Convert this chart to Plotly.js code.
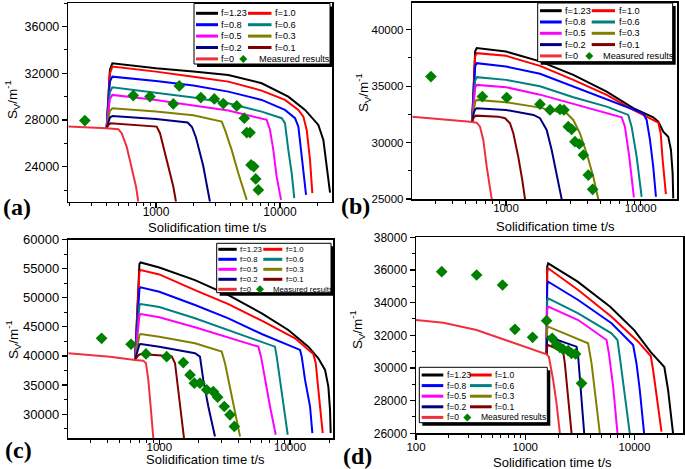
<!DOCTYPE html>
<html><head><meta charset="utf-8">
<script src="https://cdn.plot.ly/plotly-3.0.1.min.js"></script>
<style>html,body{margin:0;padding:0;background:#fff}</style>
</head><body><div id="chart" style="width:685px;height:469px"></div>
<script>
// ---------- text ----------
const F_LABELS = ['f=1.23','f=1.0','f=0.8','f=0.6','f=0.5','f=0.3','f=0.2','f=0.1','f=0'];
const MEAS_LABEL = 'Measured results';
const X_TICK_VALS = [100, 1000, 10000];
const X_TICK_TEXT = ['100', '1000', '10000'];
const X_TITLE = 'Solidification time t/s';
const Y_TITLE = 'S<sub>V</sub>/m<sup>-1</sup>';
const PANEL_LABELS = ['(a)', '(b)', '(c)', '(d)'];

// ---------- panel (a): [t (s), Sv (1/m)] ----------
const A_F123 = [[400,27300],[412,29500],[425,32300],[445,32865],[1000,32437],[2000,32150],[3828,31863],[7113,31150],[11660,30005],[15910,28865],[20370,27580],[22350,26296],[23810,24010],[25310,21782]];
const A_F10  = [[400,27300],[412,29400],[425,32000],[445,32574],[1000,32146],[2000,31700],[3828,31289],[7113,30520],[10960,29722],[14050,28865],[15420,28292],[16410,27152],[17450,24583],[18210,21730]];
const A_F08  = [[400,27300],[412,29000],[425,31300],[445,31717],[1000,31349],[2000,30950],[3828,30433],[7113,29722],[10960,28865],[13210,28155],[14050,27435],[14760,25440],[15420,23444],[16210,21585]];
const A_F06  = [[400,27300],[412,28700],[425,30400],[445,30810],[1000,30347],[2000,29930],[3828,29440],[7113,28720],[10320,28155],[10960,27726],[11660,25440],[12420,23444],[13030,21300]];
const A_F05  = [[400,27300],[412,28500],[425,29800],[445,30150],[1000,29722],[2000,29250],[3828,28806],[7812,28010],[8300,27152],[8830,25440],[9390,23153],[10190,21157]];
const A_F03  = [[400,27300],[412,28000],[425,28800],[445,29010],[1000,28720],[2000,28400],[3387,27863],[3598,27152],[4074,25440],[4610,23444],[5388,21157]];
const A_F02  = [[400,27300],[412,27800],[425,28200],[445,28350],[1000,28094],[1800,27780],[1950,27400],[2100,26500],[2400,24100],[2723,21000]];
const A_F01  = [[400,27300],[412,27550],[430,27726],[950,27470],[1013,27435],[1077,26870],[1219,24583],[1379,22296],[1449,21000]];
const A_F0   = [[196,27435],[300,27370],[400,27300],[497,27210],[529,26870],[580,25722],[637,24010],[690,22300],[720,21000]];
const A_MEAS_T = [267,656,894,1379,1541,2300,2951,3489,4478,5152,5390,5728,5840,6137,6370,6685];
const A_MEAS_S = [27949,30090,30005,29380,30921,29920,29807,29405,29208,28155,26921,26921,24153,24010,22955,22013];

// ---------- panel (b) ----------
const B_F123 = [[560,31830],[575,35500],[590,38100],[606,38375],[1000,38073],[1788,37200],[3161,36004],[5593,34521],[8810,33047],[12400,32248],[13520,31857],[14720,30969],[16030,30525],[16790,29344],[17280,27275],[17460,25055]];
const B_F10  = [[560,31830],[575,35300],[590,37650],[606,37930],[1000,37691],[1788,36800],[3161,35560],[5593,34228],[8810,32896],[13520,31768],[14080,30827],[14570,28456],[15400,25437]];
const B_F08  = [[560,31830],[575,34600],[590,36750],[606,37043],[1000,36741],[1788,36100],[3161,34965],[5593,33784],[8330,33047],[10450,32603],[11080,32008],[11730,30232],[12400,27861],[12990,25197]];
const B_F06  = [[560,31830],[575,34000],[590,35500],[606,35800],[1000,35560],[1788,35000],[3161,34024],[5593,33189],[8090,32452],[8570,31413],[9340,28749],[10170,25197]];
const B_F05  = [[560,31830],[575,33700],[590,34850],[606,35116],[1000,34912],[1788,34250],[3161,33429],[5593,32603],[7230,32248],[7640,31413],[8230,28749],[8910,25144]];
const B_F03  = [[560,31830],[575,33000],[590,33600],[606,33784],[1000,33580],[1788,33100],[2378,32745],[2822,32603],[3161,32008],[3540,30827],[3970,29051],[4450,26973],[4846,24993]];
const B_F02  = [[560,31830],[575,32600],[590,32950],[606,33047],[1000,32896],[1600,32450],[1788,32159],[2005,31120],[2184,29344],[2378,27275],[2591,24993]];
const B_F01  = [[560,31830],[575,32200],[595,32390],[877,32301],[983,32159],[1071,31715],[1133,30827],[1233,28749],[1321,26680],[1384,24993]];
const B_F0   = [[201,32301],[418,32008],[541,31857],[606,31768],[641,31413],[678,30232],[719,27861],[783,24993]];
const B_MEAS_T = [277,667,1012,1788,2122,2517,2695,2900,3074,3251,3500,3752,4085,4400];
const B_MEAS_S = [35856,34077,33988,33402,32896,32950,32896,31413,31180,30081,29877,28900,27124,25855];

// ---------- panel (c) ----------
const C_F123 = [[652,39300],[690,53000],[705,55800],[720,56058],[1000,55200],[1875,53024],[3377,50453],[6076,47317],[9700,44454],[13800,41592],[16460,39603],[18530,37598],[19640,34735],[20230,30742],[20460,26748]];
const C_F10  = [[652,39300],[690,52000],[705,54500],[720,54738],[1000,54000],[1875,51310],[3377,48910],[6076,46048],[10920,43030],[15070,40340],[15730,38746],[16670,33021],[17790,26748]];
const C_F08  = [[652,39300],[690,49700],[705,51500],[720,51773],[1000,51019],[1875,48739],[3377,46460],[6076,43768],[11930,41026],[12290,39877],[13030,35884],[14230,31308],[14820,26748]];
const C_F06  = [[652,39300],[690,47500],[705,48700],[720,48910],[1000,48397],[1875,46460],[3377,44454],[6076,42449],[7670,41592],[7910,39877],[8385,35884],[8890,31308],[9600,26457]];
const C_F05  = [[652,39300],[690,46000],[705,47000],[720,47196],[1000,46630],[1875,44917],[3377,43200],[5720,41592],[6000,39877],[6440,35884],[7030,31308],[7775,26457]];
const C_F03  = [[652,39300],[690,43000],[705,43600],[720,43770],[1000,43306],[1875,42175],[3002,40734],[3182,38746],[3373,35884],[3684,31308],[4146,26166]];
const C_F02  = [[652,39300],[690,41500],[705,42000],[720,42055],[1000,41592],[1875,40460],[2047,39877],[2171,35884],[2371,31308],[2667,26166]];
const C_F01  = [[652,39300],[690,40100],[720,40340],[1000,40100],[1244,39933],[1319,38746],[1397,34170],[1483,29593],[1545,25890]];
const C_F0   = [[201,40460],[420,39877],[652,39310],[754,39190],[791,38746],[824,35884],[859,31308],[900,25890]];
const C_MEAS_T = [362,608,791,1139,1527,1718,1854,2047,2305,2589,2797,3141,3473,3750];
const C_MEAS_S = [43030,42003,40340,39877,38850,36741,35318,35318,34170,33878,32918,31308,29885,27880];

// ---------- panel (d) ----------
const D_F123 = [[1570,30837],[1590,36200],[1623,36408],[3000,35300],[6000,33750],[10000,32300],[14000,31000],[18800,30060],[20340,28651],[22590,26000]];
const D_F10  = [[1570,30837],[1590,35900],[1623,36102],[3055,34774],[6172,33139],[10810,31609],[14120,30733],[14830,29876],[16480,27630],[17700,26099]];
const D_F08  = [[1570,30837],[1590,35100],[1623,35282],[3055,34163],[6172,32735],[9730,31407],[10450,30286],[11200,28651],[12270,26000]];
const D_F06  = [[1570,30837],[1590,34100],[1623,34265],[3055,33347],[6172,32123],[7000,31713],[7345,30690],[8160,28241],[9070,26000]];
const D_F05  = [[1570,30837],[1590,33600],[1623,33751],[3055,32937],[5560,31713],[5840,30899],[6390,28854],[7000,26000]];
const D_F03  = [[1570,30837],[1590,32400],[1623,32527],[3767,31511],[4051,30286],[4345,28651],[4825,26000]];
const D_F02  = [[1570,30837],[1590,31800],[1623,31915],[2952,31303],[3055,30690],[3236,28651],[3470,26000]];
const D_F01  = [[1570,30837],[1590,31300],[1623,31407],[2227,30997],[2307,30286],[2475,28241],[2657,26000]];
const D_F0   = [[100,32937],[178,32772],[359,32325],[724,31609],[1461,30899],[1570,30837],[1648,30690],[1803,29264],[1936,27837],[2078,26000]];
const D_MEAS_T = [172,359,620,805,1169,1570,1766,1936,2078,2227,2475,2657,2890,3281];
const D_MEAS_S = [35894,35692,35080,32368,31878,32894,31817,31407,31266,31143,31058,30899,30857,29062];

// ---------- styles / layout ----------
const COLORS = ['#000000','#ff0000','#0000ff','#008080','#ff00ff','#808000','#000080','#800000','#f0303c'];
const MEAS_COLOR = '#008000';
const W = 685, H = 469;
const SANS = 'Liberation Sans, Arial, sans-serif';
const SERIF = 'Liberation Serif, Times New Roman, serif';

const PANELS = [
  {s:'',  curves:[A_F123,A_F10,A_F08,A_F06,A_F05,A_F03,A_F02,A_F01,A_F0], mt:A_MEAS_T, ms:A_MEAS_S,
   xdom:[68.3,332], ydom:[3.3,201.7], xr:[2.293,4.419], yr:[21000,38000], ydt:4000, ymdt:2000, xfs:12, yfs:12.5, xstand:-7,
   lab:[16.7,206.7], xt:[207.5,227], yt:[12,100],
   leg:{box:[194,3.5,330,64], row0:13.3, step:11.4, c1:[196,218,219.5], c2:[248,271.5,273], dia:243.3, meas:256.7, fs:9.2}},
  {s:'2', curves:[B_F123,B_F10,B_F08,B_F06,B_F05,B_F03,B_F02,B_F01,B_F0], mt:B_MEAS_T, ms:B_MEAS_S,
   xdom:[412.3,677], ydom:[2.7,199], xr:[2.304,4.27], yr:[25000,42400], ydt:5000, ymdt:2500, xfs:11.5, yfs:11.5, xstand:-7,
   lab:[355,206], xt:[555.8,226.5], yt:[363,93],
   leg:{box:[537.7,3,672.7,61.7], row0:10.7, step:11.3, c1:[540,561.7,563], c2:[591.7,615,616.5], dia:589.3, meas:600.7, fs:9.2}},
  {s:'3', curves:[C_F123,C_F10,C_F08,C_F06,C_F05,C_F03,C_F02,C_F01,C_F0], mt:C_MEAS_T, ms:C_MEAS_S,
   xdom:[68.3,333.3], ydom:[239.5,438], xr:[2.304,4.331], yr:[25900,60000], ydt:5000, ymdt:2500, xfs:11.5, yfs:13, xstand:-7,
   lab:[18,450], xt:[205,459.5], yt:[13,340],
   leg:{box:[216.7,243.3,331,292.7], row0:249.3, step:10, c1:[218.3,236.7,238.3], c2:[263.3,282.3,283.5], dia:260, meas:271, fs:7.8}},
  {s:'4', curves:[D_F123,D_F10,D_F08,D_F06,D_F05,D_F03,D_F02,D_F01,D_F0], mt:D_MEAS_T, ms:D_MEAS_S,
   xdom:[416,683], ydom:[237.3,433.3], xr:[2,4.445], yr:[26000,38000], ydt:2000, ymdt:1000, xfs:11.5, yfs:12, xstand:-3,
   lab:[357,456], xt:[552.5,462.5], yt:[357,330],
   leg:{box:[419.3,367.3,547.3,422.7], row0:375, step:10.6, c1:[421.7,443.3,444.5], c2:[470,491.7,493], dia:467.3, meas:479.3, fs:8.5}}
];

const px = v => v / W;
const py = v => 1 - v / H;

const minorX = [];
[10,100,1000,10000].forEach(d => { for (let k = 2; k <= 9; k++) minorX.push(k * d); });

const traces = [];
const layout = {
  width: W, height: H, margin:{l:0,r:0,t:0,b:0}, autosize:false,
  paper_bgcolor:'#ffffff', plot_bgcolor:'#ffffff', showlegend:false,
  font:{family:SANS, color:'#000'}, shapes:[], annotations:[]
};

PANELS.forEach((P, pi) => {
  const xa = 'x' + P.s, ya = 'y' + P.s;
  P.curves.forEach((c, i) => {
    traces.push({
      type:'scatter', mode:'lines', name:F_LABELS[i], xaxis:xa, yaxis:ya,
      x:c.map(d => d[0]), y:c.map(d => d[1]),
      line:{color:COLORS[i], width:2}, hoverinfo:'skip'
    });
  });
  traces.push({
    type:'scatter', mode:'markers', name:MEAS_LABEL, xaxis:xa, yaxis:ya,
    x:P.mt, y:P.ms, marker:{symbol:'diamond', size:9, color:MEAS_COLOR}, hoverinfo:'skip'
  });

  layout['xaxis' + P.s] = {
    type:'log', domain:[px(P.xdom[0]), px(P.xdom[1])], range:P.xr, anchor:ya,
    showgrid:false, zeroline:false, showline:true, mirror:true, linecolor:'#000', linewidth:1.5,
    ticks:'outside', ticklen:5, tickwidth:1.2, tickcolor:'#000', ticklabelstandoff:P.xstand,
    tickmode:'array', tickvals:X_TICK_VALS, ticktext:X_TICK_TEXT,
    tickfont:{family:SANS, size:P.xfs, color:'#000'},
    minor:{tickmode:'array', tickvals:minorX, ticks:'outside', ticklen:3, tickwidth:1, tickcolor:'#000', showgrid:false}
  };
  layout['yaxis' + P.s] = {
    domain:[py(P.ydom[1]), py(P.ydom[0])], range:P.yr, anchor:xa,
    showgrid:false, zeroline:false, showline:true, mirror:true, linecolor:'#000', linewidth:1.5,
    ticks:'outside', ticklen:5, tickwidth:1.2, tickcolor:'#000',
    tick0:0, dtick:P.ydt, tickformat:'d', exponentformat:'none',
    tickfont:{family:SANS, size:P.yfs, color:'#000'},
    minor:{dtick:P.ymdt, tick0:0, ticks:'outside', ticklen:3, tickwidth:1, tickcolor:'#000', showgrid:false}
  };

  // axis titles
  layout.annotations.push({xref:'paper', yref:'paper', x:px(P.xt[0]), y:py(P.xt[1]), xanchor:'center', yanchor:'middle',
    text:X_TITLE, showarrow:false, font:{family:SANS, size:13, color:'#000'}});
  layout.annotations.push({xref:'paper', yref:'paper', x:px(P.yt[0]), y:py(P.yt[1]), xanchor:'center', yanchor:'middle',
    text:Y_TITLE, textangle:-90, showarrow:false, font:{family:SANS, size:13.5, color:'#000'}});

  // panel label
  layout.annotations.push({
    xref:'paper', yref:'paper', x:px(P.lab[0]), y:py(P.lab[1]), xanchor:'center', yanchor:'middle',
    text:'<b>' + PANEL_LABELS[pi] + '</b>', showarrow:false, font:{family:SERIF, size:24, color:'#000'}
  });

  // legend box (two columns, with shadow)
  const L = P.leg, b = L.box;
  layout.shapes.push({type:'rect', xref:'paper', yref:'paper', layer:'above',
    x0:px(b[0]+3), x1:px(b[2]+3), y0:py(b[3]+3), y1:py(b[1]+3), fillcolor:'#000', line:{width:0}});
  layout.shapes.push({type:'rect', xref:'paper', yref:'paper', layer:'above',
    x0:px(b[0]), x1:px(b[2]), y0:py(b[3]), y1:py(b[1]), fillcolor:'#fff', line:{color:'#000', width:1}});
  const items = [[0,1],[2,3],[4,5],[6,7],[8,-1]];
  items.forEach((row, r) => {
    const yy = L.row0 + r * L.step;
    row.forEach((idx, c) => {
      if (idx >= 0) {
        const col = c === 0 ? L.c1 : L.c2;
        layout.shapes.push({type:'line', xref:'paper', yref:'paper', layer:'above',
          x0:px(col[0]), x1:px(col[1]), y0:py(yy), y1:py(yy), line:{color:COLORS[idx], width:3}});
        layout.annotations.push({xref:'paper', yref:'paper', x:px(col[2]), y:py(yy), xanchor:'left', yanchor:'middle',
          text:F_LABELS[idx], showarrow:false, font:{family:SANS, size:L.fs, color:'#000'}});
      } else {
        const r0 = 4, cx = L.dia;
        layout.shapes.push({type:'path', xref:'paper', yref:'paper', layer:'above',
          path:`M ${px(cx)},${py(yy - r0)} L ${px(cx + r0)},${py(yy)} L ${px(cx)},${py(yy + r0)} L ${px(cx - r0)},${py(yy)} Z`,
          fillcolor:MEAS_COLOR, line:{width:0}});
        layout.annotations.push({xref:'paper', yref:'paper', x:px(L.meas), y:py(yy), xanchor:'left', yanchor:'middle',
          text:MEAS_LABEL, showarrow:false, font:{family:SANS, size:L.fs, color:'#000'}});
      }
    });
  });
});

Plotly.newPlot('chart', traces, layout, {displayModeBar:false, staticPlot:true});
</script></body></html>
